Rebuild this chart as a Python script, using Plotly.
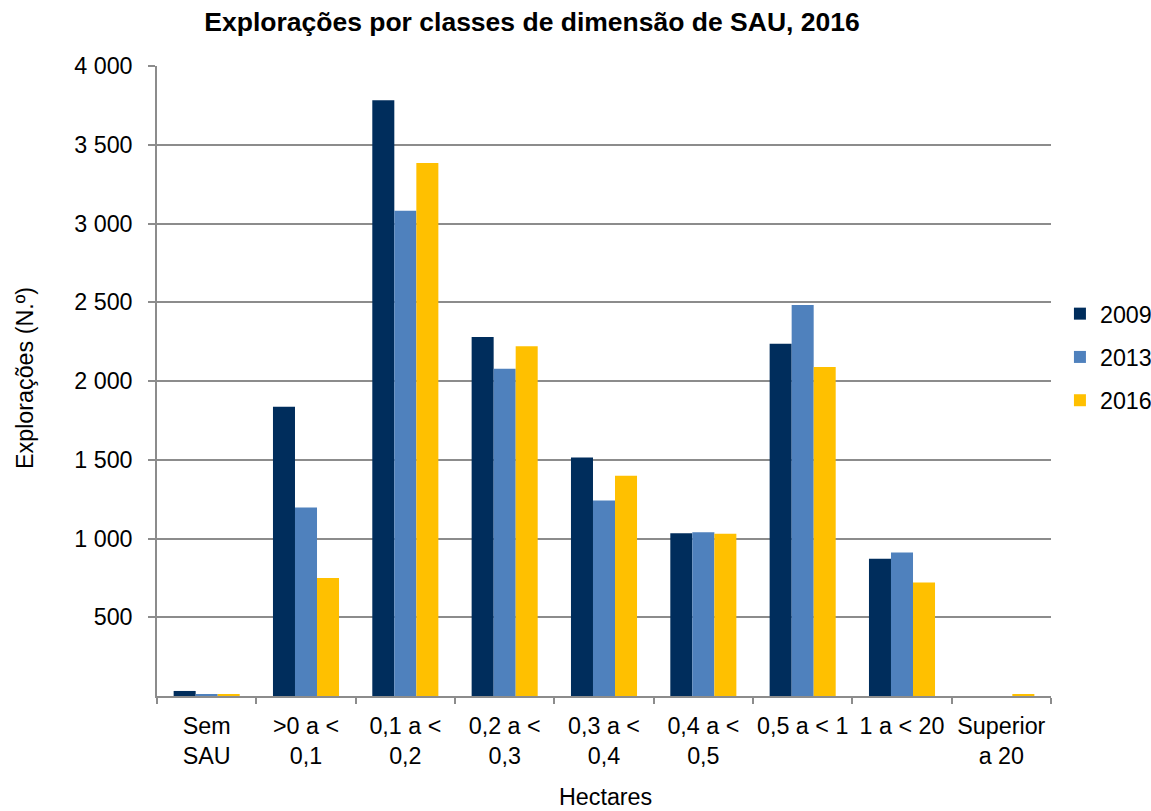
import plotly.graph_objects as go

categories = ["Sem<br>SAU", ">0 a <<br>0,1", "0,1 a <<br>0,2", "0,2 a <<br>0,3",
              "0,3 a <<br>0,4", "0,4 a <<br>0,5", "0,5 a < 1", "1 a < 20", "Superior<br>a 20"]
series_names = ["2009", "2013", "2016"]
v2009 = [32, 1837, 3782, 2280, 1515, 1034, 2237, 871, 0]
v2013 = [10, 1197, 3081, 2077, 1242, 1040, 2483, 911, 0]
v2016 = [8, 750, 3384, 2221, 1398, 1030, 2089, 720, 8]
colors = ["#002D5C", "#4F81BD", "#FFC000"]
y_ticks = [500, 1000, 1500, 2000, 2500, 3000, 3500, 4000]
y_tick_text = ["500", "1 000", "1 500", "2 000", "2 500", "3 000", "3 500", "4 000"]

FONT = "Liberation Sans, Arial, sans-serif"
W, H = 1151, 811
PL, PR, PT, PB = 157, 1051, 66, 696  # plot area in page pixels
FS = 23.3

fig = go.Figure()
for i, (name, vals) in enumerate(zip(series_names, [v2009, v2013, v2016])):
    fig.add_trace(go.Bar(
        x=categories, y=vals, name=name, legendgroup=name,
        marker=dict(color=colors[i], line=dict(width=0)),
    ))

fig.update_layout(
    width=W, height=H,
    margin=dict(l=PL, r=W - PR, t=PT, b=H - PB, autoexpand=False),
    paper_bgcolor="white", plot_bgcolor="white",
    font=dict(family=FONT, size=FS, color="black"),
    barmode="group", bargap=0.335, bargroupgap=0,
    showlegend=True,
    legend=dict(x=1.01, y=(PB - 357) / (PB - PT), xanchor="left", yanchor="middle",
                font=dict(size=FS), tracegroupgap=10, itemwidth=30,
                bgcolor="rgba(0,0,0,0)"),
    title=dict(text="<b>Explorações por classes de dimensão de SAU, 2016</b>",
               x=(532 - PL) / (PR - PL), xref="paper", xanchor="center",
               y=1 - 22 / H, yref="container", yanchor="middle",
               font=dict(size=26.5, family=FONT, color="black")),
)

fig.update_xaxes(
    type="category", showline=True, linecolor="#8C8C8C", linewidth=1.5,
    ticks="outside", tickson="boundaries", ticklen=6, tickcolor="#8C8C8C", tickwidth=1.5,
    showgrid=False, tickfont=dict(size=FS), ticklabelstandoff=8, tickangle=0,
)
fig.update_yaxes(
    range=[0, 4000], tickvals=y_ticks, ticktext=y_tick_text,
    showline=True, linecolor="#8C8C8C", linewidth=1.5,
    ticks="outside", ticklen=7, tickcolor="#8C8C8C", tickwidth=1.5,
    showgrid=True, gridcolor="#8C8C8C", gridwidth=1.5,
    zeroline=False, tickfont=dict(size=FS), ticklabelstandoff=11,
)

fig.add_annotation(text="Hectares", xref="paper", yref="paper",
                   x=(605 - PL) / (PR - PL), y=-(797 - PB) / (PB - PT),
                   xanchor="center", yanchor="middle",
                   showarrow=False, font=dict(size=FS))
fig.add_annotation(text="Explorações (N.º)", xref="paper", yref="paper",
                   x=-(PL - 25) / (PR - PL), y=(PB - 378) / (PB - PT),
                   xanchor="center", yanchor="middle",
                   textangle=-90, showarrow=False, font=dict(size=FS))

fig.write_html("out.html", config={"displayModeBar": False},
               post_script="document.body.style.margin='0';document.body.style.overflow='hidden';")
